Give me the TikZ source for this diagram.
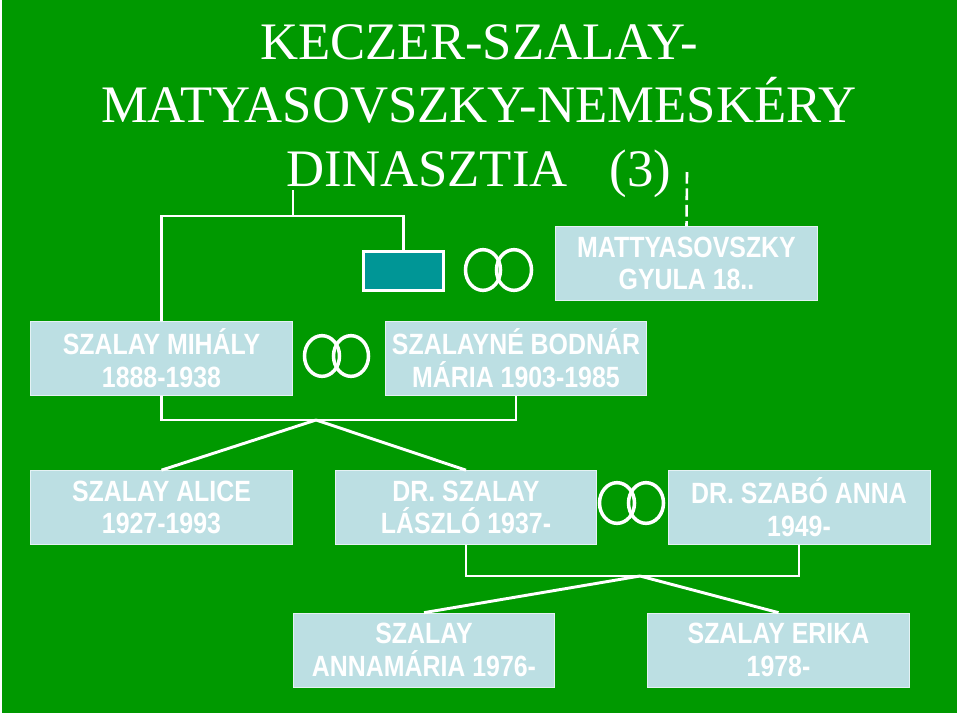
\documentclass[tikz,border=0pt]{standalone}
\usepackage{fontspec}
\setmainfont{Liberation Serif}
\setsansfont{Liberation Sans}
\newfontfamily\boxfont[FakeStretch=0.85]{Liberation Sans}
\usetikzlibrary{shapes.geometric}
\definecolor{slidegreen}{RGB}{0,153,0}
\definecolor{boxblue}{RGB}{188,223,227}
\definecolor{tealbox}{RGB}{0,150,150}

\begin{document}
\begin{tikzpicture}[x=0.03cm,y=-0.03cm,
    person/.style={rectangle,fill=boxblue,draw=white!60!boxblue,line width=0.6pt,
      minimum width=7.85cm,minimum height=2.22cm,inner sep=0pt,align=center,
      text=white,font=\boxfont\bfseries\fontsize{25}{28}\selectfont},
    ring/.style={ellipse,draw=white,line width=3pt,minimum width=1.05cm,
      minimum height=1.22cm,inner sep=0pt},
    link/.style={draw=white,line width=2.5pt}]
  % background
  \fill[white] (0,0) rectangle (960,716);
  \fill[slidegreen] (2,0) rectangle (957,713);

  % title
  \node[text=white,align=center,inner sep=0pt,
    font=\rmfamily\fontsize{45}{54}\selectfont] (title) at (479,111)
    {KECZER-SZALAY-\\MATYASOVSZKY-NEMESKÉRY\\DINASZTIA\hspace{0.8em}(3)};

  % first generation
  \node[rectangle,fill=tealbox,draw=white,line width=2.5pt,minimum width=2.4cm,
    minimum height=1.17cm] (unknown) at (403.5,271) {};
  \node[ring] (r1a) at (483,270) {};
  \node[ring] (r1b) at (514,270) {};
  \node[person] (gyula) at (686.5,263.5) {MATTYASOVSZKY\\GYULA 18..};

  % second generation
  \node[person] (mihaly) at (161.5,358.5) {SZALAY MIHÁLY\\1888-1938};
  \node[ring] (r2a) at (322,356) {};
  \node[ring] (r2b) at (351,356) {};
  \node[person] (maria) at (516,358.5) {SZALAYNÉ BODNÁR\\MÁRIA 1903-1985};

  % third generation
  \node[person] (alice) at (161.5,507.5) {SZALAY ALICE\\1927-1993};
  \node[person] (laszlo) at (466,507.5) {DR. SZALAY\\LÁSZLÓ 1937-};
  \node[ring] (r3a) at (617,503) {};
  \node[ring] (r3b) at (646,503) {};
  \node[person] (anna) at (799,507.5) {DR. SZABÓ ANNA\\1949-};

  % fourth generation
  \node[person] (annamaria) at (424,650) {SZALAY\\ANNAMÁRIA 1976-};
  \node[person] (erika) at (778.5,650) {SZALAY ERIKA\\1978-};

  % connectors
  \coordinate (top1) at (293,190);
  \coordinate (bar1) at (293,216);
  \coordinate (dash1) at (687,172);
  \coordinate (bar2) at (316,420);
  \coordinate (bar3) at (640,576);
  \draw[link] (top1) -- (bar1);
  \draw[link] (mihaly.north) |- (bar1) -| (unknown.north);
  \draw[link,line width=2.2pt,dash pattern=on 10pt off 4pt] (dash1) -- (gyula.north);
  \draw[link] (mihaly.south) |- (bar2) -| (maria.south);
  \draw[link] (bar2) -- (alice.north);
  \draw[link] (bar2) -- (laszlo.north);
  \draw[link] (laszlo.south) |- (bar3) -| (anna.south);
  \draw[link] (bar3) -- (annamaria.north);
  \draw[link] (bar3) -- (erika.north);
\end{tikzpicture}
\end{document}
